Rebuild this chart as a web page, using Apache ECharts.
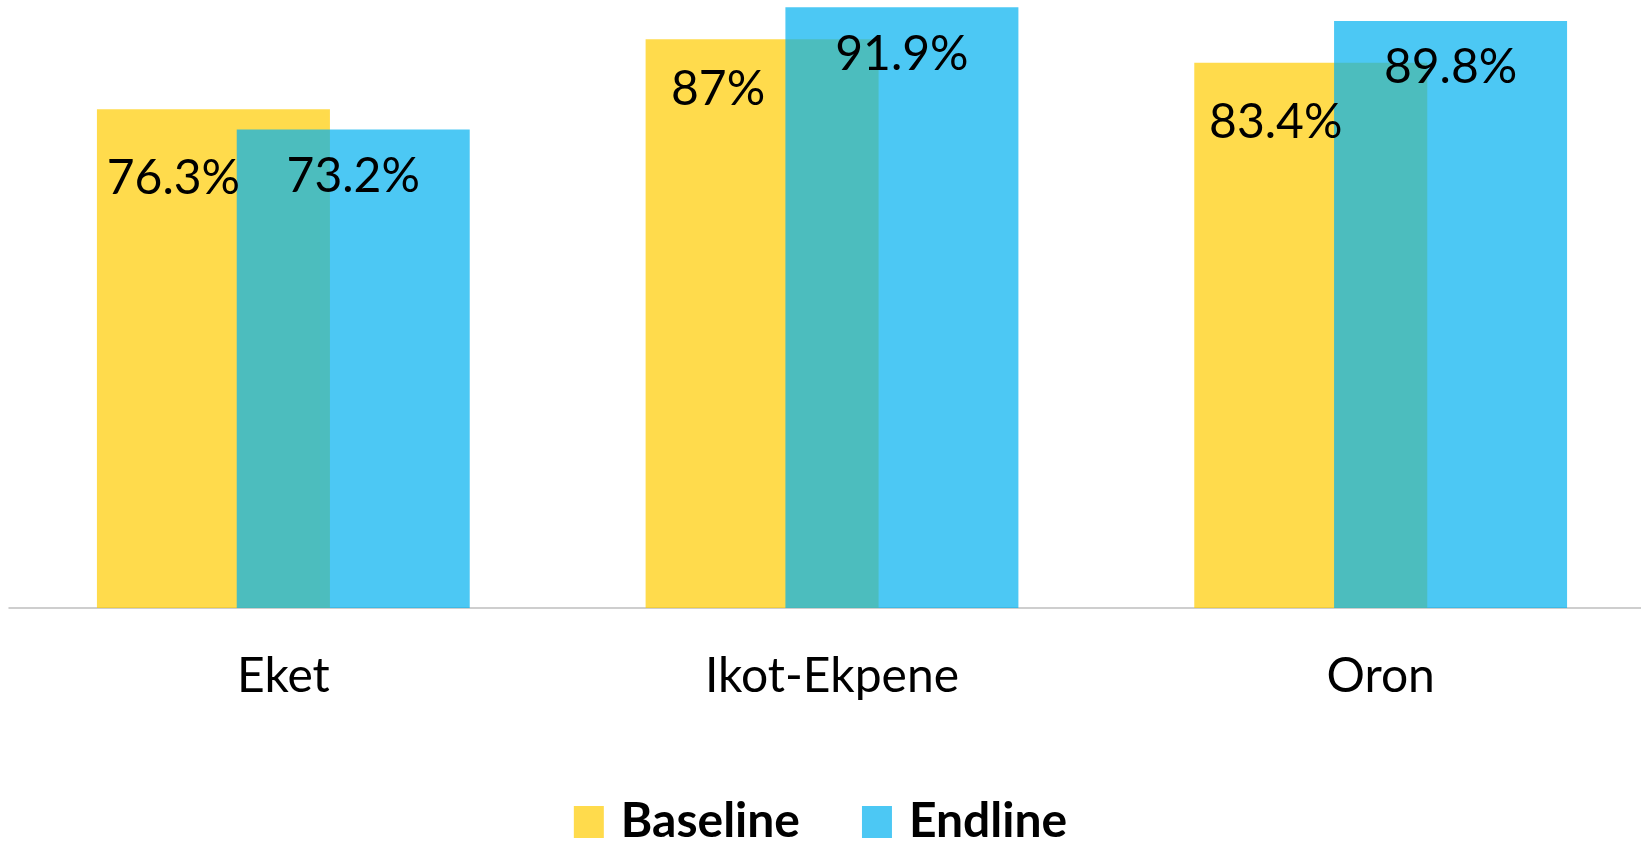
<!DOCTYPE html>
<html>
<head>
<meta charset="utf-8">
<script src="https://cdn.jsdelivr.net/npm/echarts@6/dist/echarts.min.js"></script>
<style>
html,body{margin:0;padding:0;background:#fff;overflow:hidden;}
#chart{width:1641px;height:843px;}
</style>
</head>
<body>
<div id="chart"></div>
<script>
const categories = ['Eket', 'Ikot-Ekpene', 'Oron'];
const seriesNames = ['Baseline', 'Endline'];
const baselineValues = [76.3, 87, 83.4];
const endlineValues = [73.2, 91.9, 89.8];

// label placement tweaks (styling only)
const baselineLabelShift = [[-40, 22], [-44, 3], [-35, 13]];

const FONT = 'Lato, "Open Sans", sans-serif';
const YELLOW = 'rgba(255,204,0,0.7)';
const BLUE = 'rgba(0,176,240,0.7)';

const chart = echarts.init(document.getElementById('chart'));

const labelBase = {
  show: true,
  position: 'insideTop',
  distance: 23,
  color: '#000',
  fontFamily: FONT,
  fontSize: 48,
  formatter: p => p.value + '%'
};

chart.setOption({
  animation: false,
  backgroundColor: '#fff',
  grid: { left: 9, width: 1646, top: 0, height: 608, containLabel: false, outerBoundsMode: 'none' },
  legend: {
    data: seriesNames,
    bottom: -8,
    left: 'center',
    itemWidth: 30,
    itemHeight: 32,
    itemGap: 62,
    icon: 'rect',
    textStyle: { fontFamily: FONT, fontSize: 48, fontWeight: 'bold', color: '#000', padding: [0, 0, 0, 12] }
  },
  xAxis: {
    type: 'category',
    data: categories,
    axisLine: { lineStyle: { color: '#BFBFBF', width: 1.5 } },
    axisTick: { show: false },
    axisLabel: { margin: 45, fontFamily: FONT, fontSize: 48, color: '#000' }
  },
  yAxis: {
    type: 'value',
    min: 0,
    max: 93,
    show: false,
    splitLine: { show: false }
  },
  series: [
    {
      name: seriesNames[0],
      type: 'bar',
      data: baselineValues.map((v, i) => ({
        value: v,
        label: { offset: baselineLabelShift[i] }
      })),
      barWidth: 233,
      barGap: '-40%',
      itemStyle: { color: YELLOW },
      label: labelBase,
      z: 2
    },
    {
      name: seriesNames[1],
      type: 'bar',
      data: endlineValues,
      barWidth: 233,
      barGap: '-40%',
      itemStyle: { color: BLUE },
      label: labelBase,
      z: 2
    }
  ]
});
</script>
</body>
</html>
